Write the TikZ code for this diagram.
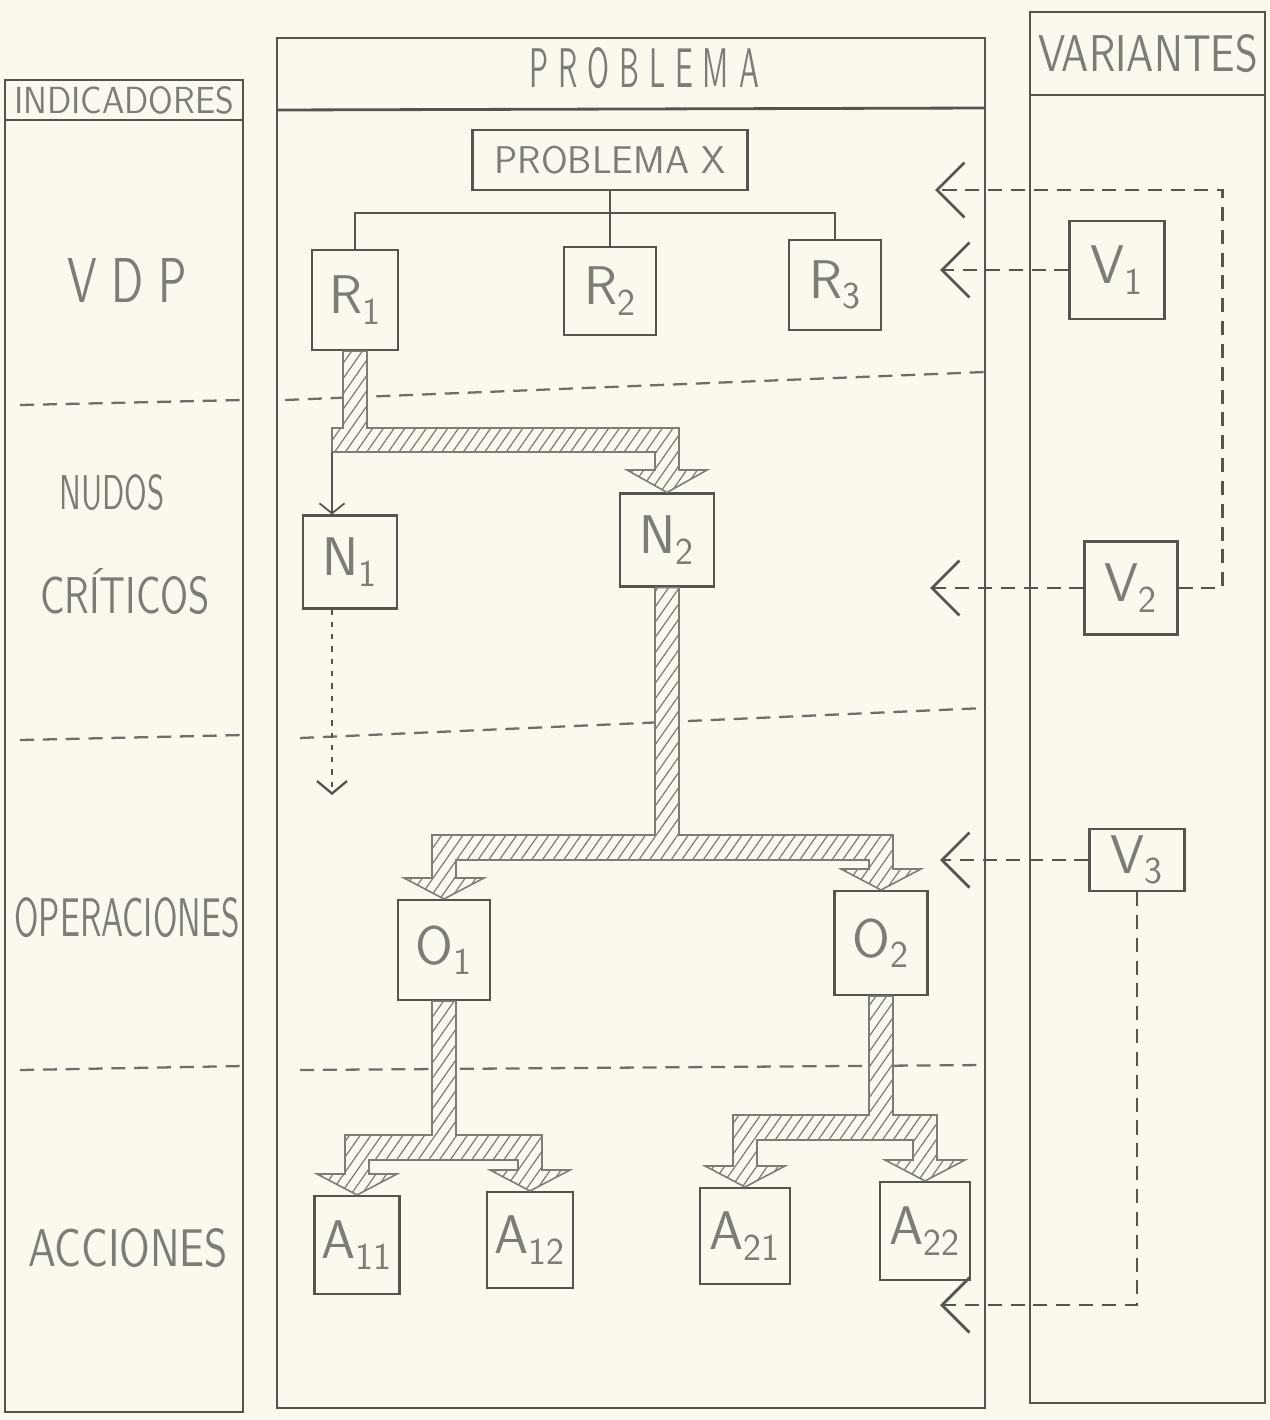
\documentclass[tikz,border=0pt]{standalone}
\usepackage{fontspec}
\usetikzlibrary{calc,arrows.meta,patterns.meta}
\definecolor{papel}{RGB}{251,249,237}
\definecolor{lapiz}{RGB}{85,85,80}
\definecolor{tinta}{RGB}{125,125,120}
\newcommand{\rotulo}[3]{\resizebox{#1}{#2}{\sffamily #3}}

\begin{document}
\begin{tikzpicture}[x=0.02cm,y=-0.02cm,
  columna/.style={draw=lapiz,line width=1.6pt},
  corte/.style={lapiz!85,line width=1.3pt,dash pattern=on 8pt off 5pt},
  caja/.style 2 args={draw=lapiz,line width=1.2pt,inner sep=0pt,text=tinta,
    minimum width=#1*0.02cm,minimum height=#2*0.02cm,font=\sffamily\fontsize{31}{33}\selectfont},
  arbol/.style={lapiz,line width=1.2pt},
  tubo/.style={draw=tinta,line width=0.9pt,preaction={fill=papel},
    pattern={Lines[angle=55,distance=5pt,line width=0.7pt]},pattern color=tinta},
  varflecha/.style={lapiz,line width=1.6pt,dash pattern=on 8pt off 5pt,
    -{Straight Barb[length=0.55cm,width=1.1cm,line width=1.6pt]}},
  punteada/.style={lapiz,line width=1.6pt,dash pattern=on 3pt off 4pt,
    -{Straight Barb[length=0.25cm,width=0.6cm,line width=1.3pt]}},
  fina/.style={lapiz,line width=1pt,-{Straight Barb[length=0.2cm,width=0.5cm]}}]
\fill[papel] (0,0) rectangle (1270,1420);
\useasboundingbox (0,0) rectangle (1270,1420);

\draw[columna] (5,80) rectangle (243,1412);
\draw[columna] (5,120) -- (243,120);
\draw[columna] (277,38) rectangle (985,1408);
\draw[columna] (277,110) -- (985,108);
\draw[columna] (1030,12) rectangle (1265,1403);
\draw[columna] (1030,95) -- (1265,95);

\node[text=tinta] (tInd) at (124,100) {\rotulo{4.4cm}{0.54cm}{INDICADORES}};
\node[text=tinta] (tPro) at (644,68) {\rotulo{4.6cm}{0.8cm}{P R O B L E M A}};
\node[text=tinta] (tVar) at (1148,54) {\rotulo{4.4cm}{0.74cm}{VARIANTES}};
\node[text=tinta] (tVdp) at (127,280) {\rotulo{2.4cm}{0.88cm}{V D P}};
\node[text=tinta] (tNud) at (112,493) {\rotulo{2.1cm}{0.7cm}{NUDOS}};
\node[text=tinta] (tCri) at (125,592) {\rotulo{3.4cm}{0.9cm}{CRÍTICOS}};
\node[text=tinta] (tOpe) at (127,918) {\rotulo{4.5cm}{0.78cm}{OPERACIONES}};
\node[text=tinta] (tAcc) at (128,1248) {\rotulo{4cm}{0.76cm}{ACCIONES}};

\draw[corte] (20,405) -- (243,400);
\draw[corte] (20,740) -- (243,735);
\draw[corte] (20,1070) -- (243,1066);
\draw[corte] (285,400) -- (985,372);
\draw[corte] (300,738) -- (985,708);
\draw[corte] (300,1070) -- (985,1065);

\node[caja={275}{60},font=\sffamily\fontsize{22}{24}\selectfont] (PX) at (610,160) {PROBLEMA X};
\node[caja={86}{100}] (R1) at (355,300) {R\textsubscript{1}};
\node[caja={92}{88}] (R2) at (610,291) {R\textsubscript{2}};
\node[caja={92}{90}] (R3) at (835,285) {R\textsubscript{3}};
\node[caja={95}{98}] (V1) at (1117,270) {V\textsubscript{1}};
\node[caja={93}{93}] (V2) at (1131,588) {V\textsubscript{2}};
\node[caja={95}{62}] (V3) at (1137,860) {V\textsubscript{3}};
\node[caja={94}{93}] (N1) at (350,562) {N\textsubscript{1}};
\node[caja={94}{93}] (N2) at (667,540) {N\textsubscript{2}};
\node[caja={92}{100}] (O1) at (444,950) {O\textsubscript{1}};
\node[caja={93}{104}] (O2) at (881,943) {O\textsubscript{2}};
\node[caja={85}{98}] (A11) at (357,1245) {A\textsubscript{11}};
\node[caja={86}{96}] (A12) at (530,1240) {A\textsubscript{12}};
\node[caja={90}{96}] (A21) at (745,1236) {A\textsubscript{21}};
\node[caja={90}{98}] (A22) at (925,1231) {A\textsubscript{22}};

\coordinate (rama) at (610,213);
\draw[arbol] (PX.south) -- (rama) -- (R2.north);
\draw[arbol] (R1.north) |- (rama) -| (R3.north);

\draw[tubo] ($(R1.south)+(-12,0)$) -- ($(R1.south)+(12,0)$) -- (367,428) -- (679,428) -- (679,470) -- (707,470) -- (N2.north) -- (627,470) -- (655,470) -- (655,452) -- (332,452) -- (332,428) -- (343,428) -- cycle;
\coordinate (codo) at (332,452);
\draw[fina] (codo) -- ($(N1.north)+(-18,0)$);
\draw[tubo] ($(N2.south)+(-12,0)$) -- ($(N2.south)+(12,0)$) -- (679,835) -- (893,835) -- (893,869) -- (921,869) -- (O2.north) -- (841,869) -- (869,869) -- (869,860) -- (456,860) -- (456,878) -- (484,878) -- (O1.north) -- (404,878) -- (432,878) -- (432,835) -- (655,835) -- cycle;
\draw[tubo] ($(O1.south)+(-12,0)$) -- ($(O1.south)+(12,0)$) -- (456,1135) -- (542,1135) -- (542,1170) -- (570,1170) -- (A12.north) -- (490,1170) -- (518,1170) -- (518,1160) -- (369,1160) -- (369,1174) -- (397,1174) -- (A11.north) -- (317,1174) -- (345,1174) -- (345,1135) -- (432,1135) -- cycle;
\draw[tubo] ($(O2.south)+(-12,0)$) -- ($(O2.south)+(12,0)$) -- (893,1115) -- (937,1115) -- (937,1160) -- (965,1160) -- (A22.north) -- (885,1160) -- (913,1160) -- (913,1140) -- (757,1140) -- (757,1166) -- (785,1166) -- (A21.north) -- (705,1166) -- (733,1166) -- (733,1115) -- (869,1115) -- cycle;

\coordinate (fin) at (332,795);
\draw[punteada] ($(N1.south)+(-18,0)$) -- (fin);

\coordinate (pA) at (935,190);
\coordinate (pV1) at (940,270);
\coordinate (pV2) at (930,588);
\coordinate (pV3) at (940,860);
\coordinate (pV3b) at (940,1305);
\draw[varflecha] (V2.east) -- ++(44,0) |- (pA);
\draw[varflecha] (V1.west) -- (pV1);
\draw[varflecha] (V2.west) -- (pV2);
\draw[varflecha] (V3.west) -- (pV3);
\draw[varflecha] (V3.south) |- (pV3b);
\end{tikzpicture}
\end{document}
